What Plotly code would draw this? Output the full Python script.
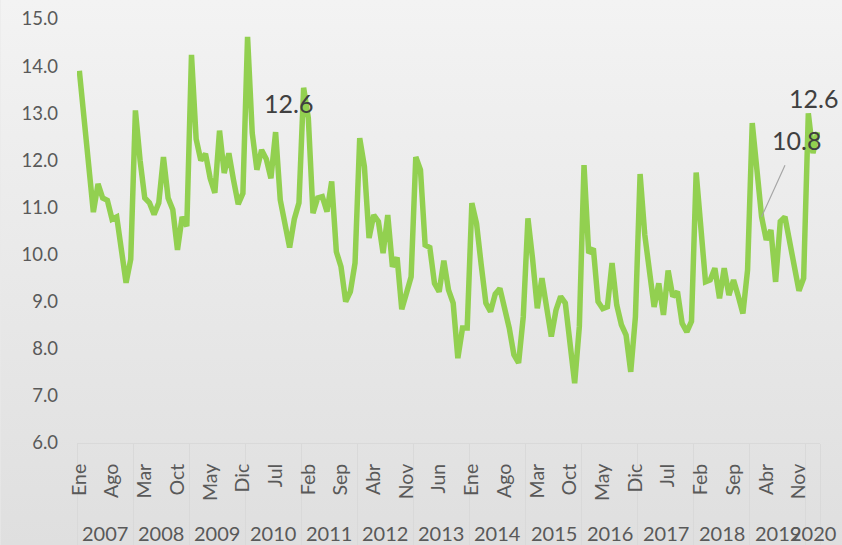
import base64
import plotly.graph_objects as go

# ---- data ----
months = ["Ene", "Feb", "Mar", "Abr", "May", "Jun", "Jul", "Ago", "Sep", "Oct", "Nov", "Dic"]
years = [2007, 2008, 2009, 2010, 2011, 2012, 2013, 2014, 2015, 2016, 2017, 2018, 2019, 2020]

v2007 = [13.9, 12.9, 11.9, 10.9, 11.5, 11.2, 11.15, 10.75, 10.8, 10.0, 9.4, 9.9]
v2008 = [13.06, 12.0, 11.2, 11.1, 10.85, 11.1, 12.07, 11.2, 10.95, 10.1, 10.8, 10.6]
v2009 = [14.24, 12.45, 12.0, 12.14, 11.62, 11.31, 12.63, 11.73, 12.15, 11.58, 11.07, 11.3]
v2010 = [14.62, 12.58, 11.8, 12.22, 12.03, 11.62, 12.6, 11.16, 10.6, 10.15, 10.75, 11.1]
v2011 = [13.54, 12.9, 10.88, 11.2, 11.23, 10.91, 11.55, 10.06, 9.74, 9.0, 9.21, 9.82]
v2012 = [12.47, 11.87, 10.35, 10.84, 10.7, 10.03, 10.84, 9.74, 9.94, 8.84, 9.18, 9.53]
v2013 = [12.07, 11.8, 10.2, 10.15, 9.39, 9.21, 9.87, 9.25, 8.97, 7.8, 8.44, 8.44]
v2014 = [11.09, 10.66, 9.78, 8.97, 8.79, 9.16, 9.28, 8.89, 8.44, 7.87, 7.7, 8.68]
v2015 = [10.77, 9.9, 8.86, 9.5, 8.89, 8.26, 8.82, 9.11, 8.97, 8.12, 7.27, 8.47]
v2016 = [11.9, 10.03, 10.13, 9.0, 8.85, 8.89, 9.82, 8.93, 8.51, 8.29, 7.51, 8.68]
v2017 = [11.71, 10.42, 9.57, 8.89, 9.39, 8.72, 9.66, 9.11, 9.21, 8.54, 8.36, 8.58]
v2018 = [11.74, 10.7, 9.42, 9.46, 9.71, 9.07, 9.71, 9.14, 9.46, 9.12, 8.75, 9.67]
v2019 = [12.79, 11.8, 10.8, 10.31, 10.52, 9.42, 10.7, 10.8, 10.24, 9.74, 9.23, 9.5]
v2020 = [13.0, 12.15, 12.6]

per_year = [v2007, v2008, v2009, v2010, v2011, v2012, v2013, v2014,
            v2015, v2016, v2017, v2018, v2019, v2020]

# labelled points: (year, month, text)
labels = [(2010, "Jul", "12.6"), (2019, "Mar", "10.8"), (2020, "Mar", "12.6")]

# ---- build series ----
values, month_names, year_of = [], [], []
for y, vals in zip(years, per_year):
    for k, v in enumerate(vals):
        values.append(v)
        month_names.append(months[k])
        year_of.append(y)
idx = list(range(len(values)))
n = len(values)

def index_of(y, m):
    for i in idx:
        if year_of[i] == y and month_names[i] == m:
            return i
    return None

tick_vals = idx[::7]
tick_text = [month_names[i] for i in tick_vals]

# year boundaries and centers
bounds = [-0.5]
centers = []
start = 0
for vals in per_year:
    end = start + len(vals)
    bounds.append(end - 0.5)
    centers.append((start + end - 1) / 2)
    start = end

# ---- figure geometry ----
W, H = 842, 545
ML, MR, MT, MB = 76.7, 22, 19, 102
PW, PH = W - ML - MR, H - MT - MB

grad_svg = (
    '<svg xmlns="http://www.w3.org/2000/svg" width="100" height="100" preserveAspectRatio="none">'
    '<defs><linearGradient id="g" x1="0" y1="0" x2="0" y2="1">'
    '<stop offset="0" stop-color="#f3f3f3"/><stop offset="1" stop-color="#dfdfdf"/>'
    '</linearGradient></defs><rect width="100" height="100" fill="url(#g)"/></svg>'
)
grad_uri = "data:image/svg+xml;base64," + base64.b64encode(grad_svg.encode()).decode()

FONT = "Lato"
fig = go.Figure()
fig.add_trace(go.Scatter(
    x=idx, y=values, mode="lines",
    line=dict(color="#92d050", width=5.5, shape="linear"),
    hoverinfo="skip", showlegend=False,
))

annotations = []
for y, c in zip(years, centers):
    annotations.append(dict(
        x=c, y=0, xref="x", yref="paper", text=str(y), showarrow=False,
        yanchor="middle", yshift=-90, font=dict(family=FONT, size=20, color="#595959"),
    ))

lab_style = {
    0: dict(showarrow=False, xshift=13, yshift=29),
    1: dict(showarrow=True, ax=35, ay=-77, arrowhead=0, arrowwidth=1.2,
            arrowcolor="#a6a6a6", borderpad=10),
    2: dict(showarrow=False, xshift=-4, yshift=34),
}
for j, (y, m, t) in enumerate(labels):
    i = index_of(y, m)
    annotations.append(dict(
        x=i, y=values[i], xref="x", yref="y", text=t,
        font=dict(family=FONT, size=25, color="#404040"), **lab_style[j]
    ))

fig.update_layout(
    width=W, height=H,
    margin=dict(l=ML, r=MR, t=MT, b=MB, pad=0, autoexpand=False),
    paper_bgcolor="#e9e9e9", plot_bgcolor="rgba(0,0,0,0)",
    images=[dict(
        source=grad_uri, xref="paper", yref="paper",
        x=-ML / PW, y=1 + MT / PH, sizex=W / PW, sizey=H / PH,
        xanchor="left", yanchor="top", sizing="stretch", layer="below",
    )],
    xaxis=dict(
        range=[-0.5, n - 0.5], tickmode="array", tickvals=tick_vals, ticktext=tick_text,
        tickangle=-90, ticks="outside", ticklen=0, tickcolor="#d9d9d9",
        ticklabelstandoff=12, automargin=False,
        tickfont=dict(family=FONT, size=19.5, color="#595959"),
        showgrid=False, zeroline=False, showline=True, linecolor="#d9d9d9", linewidth=1,
        minor=dict(tickmode="array", tickvals=bounds, ticks="outside", ticklen=102,
                   tickcolor="#d9d9d9", tickwidth=1, showgrid=False),
    ),
    yaxis=dict(
        range=[6, 15], tickmode="array", tickvals=list(range(6, 16)),
        tickformat=".1f", ticks="", ticklabelstandoff=18, automargin=False,
        tickfont=dict(family=FONT, size=18.5, color="#595959"),
        showgrid=False, zeroline=False, showline=False,
    ),
    annotations=annotations,
)

fig.write_html(
    "out.html",
    config={"displayModeBar": False},
    post_script="document.body.style.margin='0px';document.body.style.overflow='hidden';",
)
